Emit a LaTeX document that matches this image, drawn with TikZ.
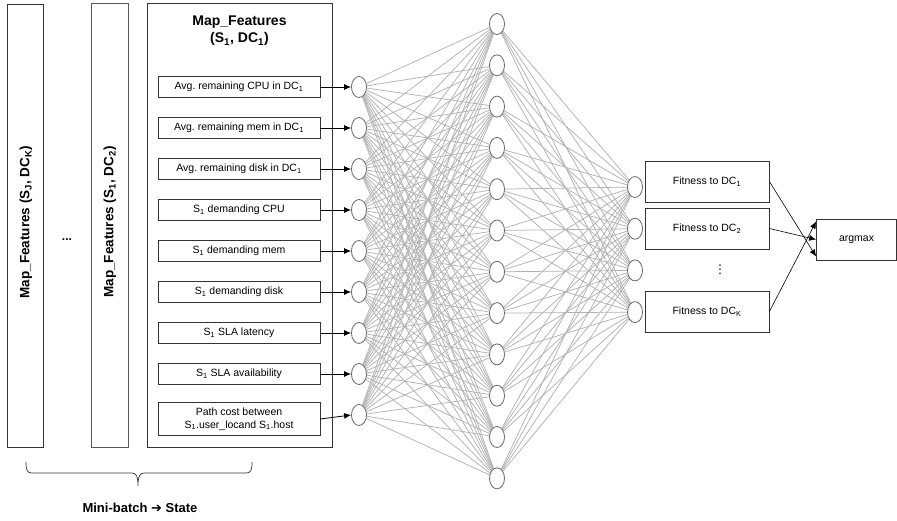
\documentclass[tikz,border=0pt]{standalone}
\usepackage{fontspec}
\setmainfont{Liberation Sans}
\newfontfamily\symfont{DejaVu Sans}
\usetikzlibrary{arrows.meta,backgrounds,shapes.geometric}
\frenchspacing
\begin{document}
\begin{tikzpicture}[x=1pt,y=-1pt,
  frame/.style={draw=black!80,line width=0.8pt},
  feat/.style={frame,minimum width=162pt,minimum height=21pt,inner sep=0pt,
    font=\fontsize{10.5}{12}\selectfont,align=center},
  fitbox/.style={frame,minimum width=124pt,minimum height=41pt,inner sep=0pt,
    font=\fontsize{10.5}{12}\selectfont},
  neuron/.style={ellipse,draw=black!60,fill=white,line width=0.8pt,
    minimum width=15pt,minimum height=21pt,inner sep=0pt},
  link/.style={draw=black!30,line width=0.75pt},
  feed/.style={-{Latex[length=7pt,width=6pt]},line width=0.8pt,draw=black},
  vlabel/.style={rotate=90,font=\fontsize{13.5}{16}\selectfont\bfseries},
]
\useasboundingbox (0,0) rectangle (897,520);

% mini-batch columns
\node[frame,minimum width=36pt,minimum height=443pt,inner sep=0pt] (colK) at (25,225.5) {};
\node[vlabel] (colKtxt) at (26,222) {Map\_Features (S\textsubscript{J}, DC\textsubscript{K})};
\node[font=\fontsize{12}{14}\selectfont\bfseries] (gap) at (67,240) {...};
\node[frame,draw=black!65,minimum width=37pt,minimum height=444pt,inner sep=0pt] (col2) at (109.5,225) {};
\node[vlabel] (col2txt) at (110,222) {Map\_Features (S\textsubscript{1}, DC\textsubscript{2})};

% current sample panel
\node[frame,minimum width=185pt,minimum height=444pt,inner sep=0pt] (panel) at (239.5,225) {};
\node[font=\fontsize{14}{17}\selectfont\bfseries,align=center] (paneltitle) at (239.5,31)
  {Map\_Features\\(S\textsubscript{1}, DC\textsubscript{1})};

\node[feat] (f1) at (239,87)  {Avg. remaining CPU in DC\textsubscript{1}};
\node[feat] (f2) at (239,128) {Avg. remaining mem in DC\textsubscript{1}};
\node[feat] (f3) at (239,169) {Avg. remaining disk in DC\textsubscript{1}};
\node[feat] (f4) at (239,210) {S\textsubscript{1} demanding CPU};
\node[feat] (f5) at (239,251) {S\textsubscript{1} demanding mem};
\node[feat] (f6) at (239,292) {S\textsubscript{1} demanding disk};
\node[feat] (f7) at (239,333) {S\textsubscript{1} SLA latency};
\node[feat] (f8) at (239,374) {S\textsubscript{1} SLA availability};
\node[feat,minimum height=33pt,font=\fontsize{10.5}{13}\selectfont] (f9) at (239,419)
  {Path cost between\\S\textsubscript{1}.user\_locand S\textsubscript{1}.host};

% network layers
\foreach \i in {1,...,9}
  \node[neuron] (in\i) at (359,{87+41*(\i-1)}) {};
\foreach \j in {1,...,12}
  \node[neuron] (hid\j) at (497,{24+41.3*(\j-1)}) {};
\foreach \k in {1,...,4}
  \node[neuron] (out\k) at (635,{187+41.7*(\k-1)}) {};

\begin{scope}[on background layer]
  \foreach \i in {1,...,9}
    \foreach \j in {1,...,12}
      \draw[link] (in\i) -- (hid\j);
  \foreach \j in {1,...,12}
    \foreach \k in {1,...,4}
      \draw[link] (hid\j) -- (out\k);
\end{scope}

\foreach \i in {1,...,9}
  \draw[feed] (f\i.east) -- (in\i.west);

% outputs
\node[fitbox] (fit1) at (707,181.5) {Fitness to DC\textsubscript{1}};
\node[fitbox] (fit2) at (707,228.5) {Fitness to DC\textsubscript{2}};
\node[font=\fontsize{12}{12}\selectfont] (vdots) at (720,270) {\symfont ⋮};
\node[fitbox] (fitK) at (707,311.5) {Fitness to DC\textsubscript{K}};
\node[frame,minimum width=80pt,minimum height=41pt,inner sep=0pt,
  font=\fontsize{10.5}{12}\selectfont] (argmax) at (856.5,239.5) {argmax};

\draw[feed,line width=0.6pt] (fit1.east) -- ([yshift=-17pt]argmax.west);
\draw[feed,line width=0.6pt] (fit2.east) -- (argmax.west);
\draw[feed,line width=0.6pt] (fitK.east) -- ([yshift=18pt]argmax.west);

% mini-batch brace
\coordinate (bl) at (26,462);
\coordinate (br) at (252,462);
\coordinate (btip) at (138,486);
\draw[line width=0.7pt,draw=black!80] (bl) .. controls (26,470) and (27,473) .. (32,473)
  -- (132,473) .. controls (136,473) and (138,476) .. (btip)
  .. controls (138,476) and (140,473) .. (144,473)
  -- (246,473) .. controls (251,473) and (252,470) .. (br);
\node[font=\fontsize{13}{15}\selectfont\bfseries] (state) at (140,508)
  {Mini-batch {\symfont ➔} State};
\end{tikzpicture}
\end{document}
